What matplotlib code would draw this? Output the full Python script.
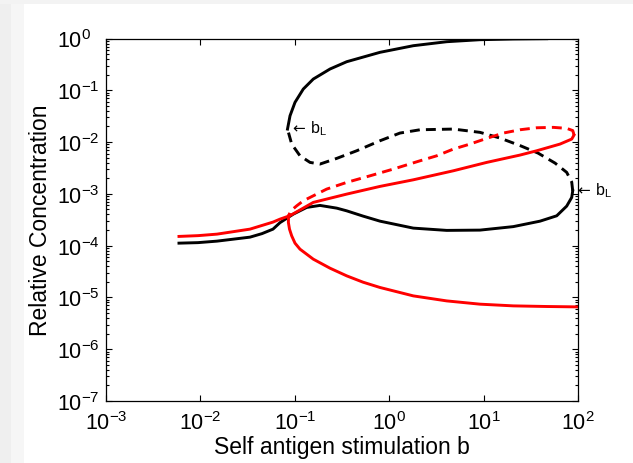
import matplotlib
matplotlib.use("Agg")
import matplotlib.pyplot as plt
import numpy as np
from matplotlib.patches import Rectangle
from matplotlib.ticker import LogLocator, NullLocator, LogFormatterSciNotation

plt.rcParams['font.family'] = ['Liberation Sans', 'DejaVu Sans']
plt.rcParams['mathtext.fontset'] = 'custom'
plt.rcParams['mathtext.rm'] = 'Liberation Sans'
plt.rcParams['mathtext.it'] = 'Liberation Sans'
plt.rcParams['mathtext.default'] = 'regular'

# Black: stable lower branch (b, concentration)
black_low_b = [0.00593, 0.00943, 0.01499, 0.03352, 0.0449, 0.05876, 0.06968, 0.0964, 0.1337,
               0.1848, 0.278, 0.3547, 0.528, 0.799, 1.80, 4.065, 9.16, 20.63, 39.6, 59.5,
               75.9, 85.8, 87.9]
black_low_c = [1.117e-4, 1.143e-4, 1.222e-4, 1.459e-4, 1.706e-4, 2.084e-4, 2.78e-4, 4.06e-4,
               5.47e-4, 5.98e-4, 5.30e-4, 4.70e-4, 3.72e-4, 2.97e-4, 2.18e-4, 1.97e-4,
               1.995e-4, 2.33e-4, 2.97e-4, 3.77e-4, 5.80e-4, 8.54e-4, 1.146e-3]

# Black: unstable branch (dashed), from right fold to left fold
black_mid_b = [87.9, 85.8, 75.9, 57.1, 37.7, 24.3, 14.92, 9.16, 4.78, 2.12, 1.30, 0.799,
               0.4525, 0.278, 0.1848, 0.1449, 0.1135, 0.0927, 0.0837]
black_mid_c = [1.146e-3, 1.687e-3, 2.60e-3, 3.93e-3, 6.13e-3, 8.56e-3, 1.195e-2, 1.540e-2,
               1.783e-2, 1.729e-2, 1.493e-2, 1.060e-2, 6.79e-3, 4.84e-3, 3.76e-3, 4.05e-3,
               5.43e-3, 9.15e-3, 1.783e-2]

# Black: stable upper branch
black_up_b = [0.0837, 0.0890, 0.1005, 0.1230, 0.1570, 0.2360, 0.3547, 0.799, 1.80, 4.065,
              9.16, 20.63, 46.6]
black_up_c = [1.783e-2, 3.22e-2, 5.85e-2, 0.1057, 0.1648, 0.2575, 0.3562, 0.5409, 0.726,
              0.867, 0.948, 0.978, 0.991]

# Red: stable branch from low b up to right fold
red_up_b = [0.00593, 0.00943, 0.01499, 0.03352, 0.05876, 0.06968, 0.0890, 0.1570, 0.3547,
            0.799, 1.80, 4.78, 10.79, 24.3, 36.5, 64.5, 85.8, 90.7]
red_up_c = [1.507e-4, 1.560e-4, 1.668e-4, 2.084e-4, 2.85e-4, 3.25e-4, 3.80e-4, 6.84e-4,
            9.89e-4, 1.393e-3, 1.868e-3, 2.79e-3, 4.05e-3, 5.61e-3, 6.79e-3, 9.15e-3,
            1.143e-2, 1.365e-2]

# Red: unstable branch (dashed), from right fold to left fold
red_mid_b = [90.7, 89.6, 87.9, 75.9, 54.7, 36.5, 24.3, 16.17, 10.79, 7.18, 4.78, 3.185,
             2.12, 1.105, 0.626, 0.3547, 0.2177, 0.1230, 0.1047, 0.0901, 0.0858]
red_mid_c = [1.365e-2, 1.493e-2, 1.668e-2, 1.840e-2, 1.923e-2, 1.889e-2, 1.729e-2, 1.493e-2,
             1.179e-2, 9.15e-3, 7.32e-3, 5.43e-3, 4.35e-3, 3.01e-3, 2.23e-3, 1.665e-3,
             1.236e-3, 7.34e-4, 5.87e-4, 4.64e-4, 3.72e-4]

# Red: stable lower branch
red_low_b = [0.0858, 0.0855, 0.0879, 0.0927, 0.1005, 0.1135, 0.1570, 0.236, 0.3547, 0.528,
             0.799, 1.80, 4.065, 9.16, 20.63, 46.6, 96.9]
red_low_c = [3.72e-4, 2.81e-4, 2.08e-4, 1.546e-4, 1.117e-4, 8.55e-5, 5.48e-5, 3.67e-5,
             2.61e-5, 1.97e-5, 1.556e-5, 1.071e-5, 8.57e-6, 7.41e-6, 6.87e-6, 6.68e-6, 6.57e-6]

# fold points marked with b_L
fold_b = [0.0837, 87.9]
fold_c = [1.783e-2, 1.146e-3]

xticks = [1e-3, 1e-2, 1e-1, 1e0, 1e1, 1e2]
yticks = [1e-7, 1e-6, 1e-5, 1e-4, 1e-3, 1e-2, 1e-1, 1e0]

fig = plt.figure(figsize=(6.33, 4.64), dpi=100, facecolor='white')
# light grey frame strips of the screenshot
fig.patches.append(Rectangle((0, 0), 24 / 633, 1, transform=fig.transFigure,
                             facecolor='#f6f6f6', edgecolor='none', zorder=0))
fig.patches.append(Rectangle((0, 0), 11 / 633, 1, transform=fig.transFigure,
                             facecolor='#efefef', edgecolor='none', zorder=0))
fig.patches.append(Rectangle((0, 1 - 5 / 464), 1, 5 / 464, transform=fig.transFigure,
                             facecolor='#f3f3f3', edgecolor='none', zorder=0))

ax = fig.add_axes([106 / 633, 62 / 464, 472 / 633, 362.5 / 464])

lw = 2.1
dash = (0, (3.4, 2.1))
ax.plot(black_low_b, black_low_c, color='black', lw=lw)
ax.plot(black_mid_b, black_mid_c, color='black', lw=lw, linestyle=dash)
ax.plot(black_up_b, black_up_c, color='black', lw=lw)
ax.plot(red_up_b, red_up_c, color='red', lw=lw)
ax.plot(red_mid_b, red_mid_c, color='red', lw=lw, linestyle=dash)
ax.plot(red_low_b, red_low_c, color='red', lw=lw)

for b, c in zip(fold_b, fold_c):
    ax.annotate('\u2190', xy=(b, c), xytext=(3.5, -2.5),
                textcoords='offset points', ha='left', va='baseline', fontsize=11,
                family='DejaVu Sans', annotation_clip=False)
    ax.annotate('b$_{L}$', xy=(b, c), xytext=(16, -2.5),
                textcoords='offset points', ha='left', va='baseline', fontsize=11.5,
                annotation_clip=False)

ax.set_xscale('log')
ax.set_yscale('log')
ax.set_xlim(1e-3, 1e2)
ax.set_ylim(1e-7, 1e0)
ax.set_xticks(xticks)
ax.set_yticks(yticks)
ax.xaxis.set_minor_locator(NullLocator())
ax.yaxis.set_minor_locator(LogLocator(base=10, subs=np.arange(2, 10), numticks=20))
ax.yaxis.set_minor_formatter(plt.NullFormatter())
ax.xaxis.set_major_formatter(LogFormatterSciNotation())
ax.yaxis.set_major_formatter(LogFormatterSciNotation())
ax.tick_params(which='both', direction='in', top=True, right=True, width=0.8)
ax.tick_params(which='major', length=4, labelsize=15.5)
ax.tick_params(axis='x', which='major', pad=7)
ax.tick_params(axis='y', which='major', pad=35)
ax.tick_params(which='minor', length=2)
plt.setp(ax.get_yticklabels(), ha='left')
for s in ax.spines.values():
    s.set_linewidth(0.9)

ax.set_xlabel('Self antigen stimulation b', fontsize=16.5)
ax.set_ylabel('Relative Concentration', fontsize=16.5)
ax.xaxis.set_label_coords(0.5, -0.095)
ax.yaxis.set_label_coords(-0.115, 0.5)

fig.savefig('out.png', dpi=100, facecolor=fig.get_facecolor())
